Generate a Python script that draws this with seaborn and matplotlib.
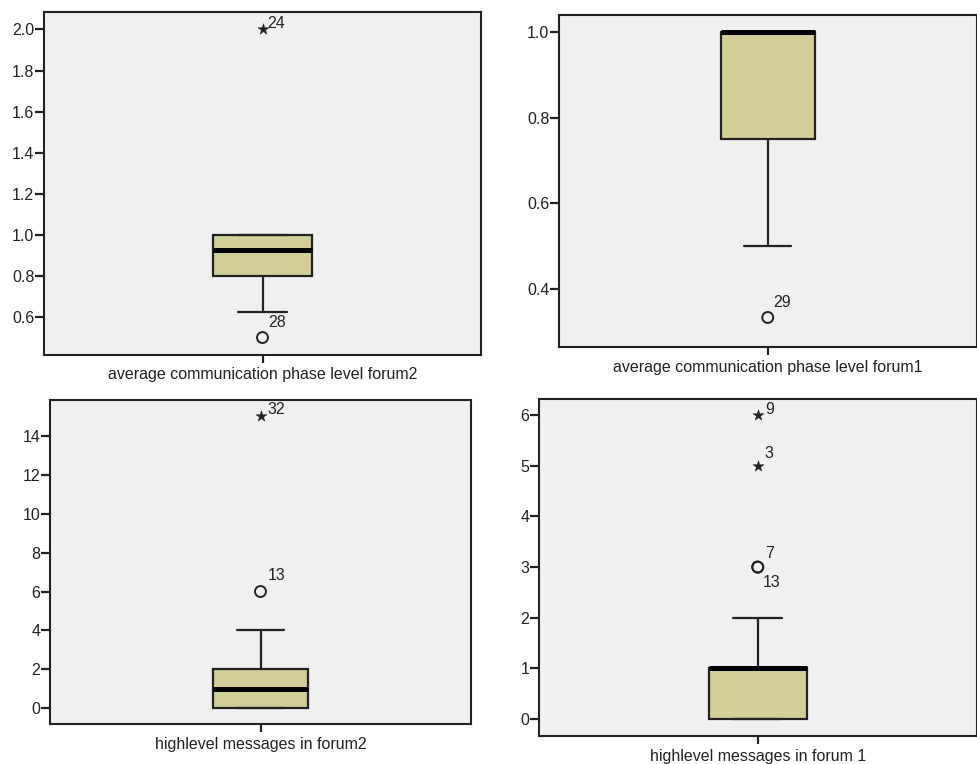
import matplotlib
matplotlib.use("Agg")
import matplotlib.pyplot as plt
import numpy as np
import pandas as pd
import seaborn as sns

# ── data ─────────────────────────────────────────────────────────────────────
VARIABLES  = ["average communication phase level forum2",
              "average communication phase level forum1",
              "highlevel messages in forum2",
              "highlevel messages in forum 1"]
WHISKER_LO = [0.625, 0.5, 0, 0]
Q1         = [0.8, 0.75, 0, 0]
MEDIAN     = [0.925, 1.0, 1, 1]
Q3         = [1.0, 1.0, 2, 1]
WHISKER_HI = [1.0, 1.0, 4, 2]

# outliers: which panel, value, SPSS kind (circle = outlier, star = extreme), case number
OUT_PANEL = [0, 0, 1, 2, 2, 3, 3, 3, 3]
OUT_VALUE = [2.0, 0.5, 0.333, 15, 6, 6, 5, 3, 3]
OUT_KIND  = ["extreme", "outlier", "outlier", "extreme", "outlier",
             "extreme", "extreme", "outlier", "outlier"]
OUT_CASE  = ["24", "28", "29", "32", "13", "9", "3", "7", "13"]

Y_TICKS = [[0.6, 0.8, 1.0, 1.2, 1.4, 1.6, 1.8, 2.0],
           [0.4, 0.6, 0.8, 1.0],
           [0, 2, 4, 6, 8, 10, 12, 14],
           [0, 1, 2, 3, 4, 5, 6]]
Y_FMT = ["%.1f", "%.1f", "%d", "%d"]

# ── layout / style ───────────────────────────────────────────────────────────
W, H = 977, 764
# axes boxes in pixels: left, top, right, bottom
AX_PX = [(44, 12, 481, 355), (559, 15, 976.5, 347),
         (50, 400, 471, 724), (539, 399, 976.5, 736)]
Y_LIM = [(0.415, 2.085), (0.264, 1.04), (-0.8, 15.83), (-0.336, 6.32)]
# label offsets in pixels (dx, dy) from the marker
LABEL_OFF = [(5, 6), (6, 15), (6, 15), (7, 7), (7, 16),
             (7, 6), (7, 12), (7, 14), (5, -15)]

BOX_FILL = "#D3CE97"
PANEL_BG = "#F0F0F0"
INK      = "#222222"

sns.set_theme(style="ticks")
plt.rcParams["font.family"] = ["Liberation Sans", "DejaVu Sans"]
FS = 11.5

fig = plt.figure(figsize=(W / 100, H / 100), dpi=100)

for i in range(4):
    l, t, r, b = AX_PX[i]
    ax = fig.add_axes([l / W, 1 - b / H, (r - l) / W, (b - t) / H])
    ax.set_facecolor(PANEL_BG)

    five = [WHISKER_LO[i], Q1[i], MEDIAN[i], Q3[i], WHISKER_HI[i]]
    df = pd.DataFrame({"variable": VARIABLES[i], "value": five})
    sns.boxplot(data=df, x="variable", y="value", ax=ax,
                whis=(0, 100), showfliers=False, width=0.225,
                color=BOX_FILL, saturation=1, linecolor=INK, linewidth=1.6,
                medianprops=dict(color="black", linewidth=3.6))

    idx = [k for k in range(len(OUT_PANEL)) if OUT_PANEL[k] == i]
    circ = [OUT_VALUE[k] for k in idx if OUT_KIND[k] == "outlier"]
    star = [OUT_VALUE[k] for k in idx if OUT_KIND[k] == "extreme"]
    if circ:
        sns.scatterplot(x=[0] * len(circ), y=circ, ax=ax, marker="o", s=62,
                        facecolor="none", edgecolor=INK, linewidth=1.4, zorder=5)
    if star:
        sns.scatterplot(x=[0] * len(star), y=star, ax=ax, marker="*", s=70,
                        color=INK, edgecolor=INK, linewidth=0.3, zorder=5)
    for k in idx:
        ax.annotate(OUT_CASE[k], (0, OUT_VALUE[k]), xytext=LABEL_OFF[k],
                    textcoords="offset pixels", ha="left", va="center",
                    fontsize=FS, color=INK)

    ax.set_xlim(-0.5, 0.5)
    ax.set_ylim(*Y_LIM[i])
    ax.set_yticks(Y_TICKS[i])
    ax.set_yticklabels([Y_FMT[i] % v for v in Y_TICKS[i]])
    ax.set_xlabel("")
    ax.set_ylabel("")
    ax.tick_params(axis="y", direction="out", length=6.5, width=1.6,
                   color=INK, labelsize=FS, labelcolor=INK, pad=0.5)
    ax.tick_params(axis="x", direction="out", length=6, width=1.6,
                   color=INK, labelsize=FS, labelcolor=INK, pad=3)
    for sp in ax.spines.values():
        sp.set_visible(True)
        sp.set_color(INK)
        sp.set_linewidth(1.5)

fig.savefig("out.png", dpi=100)
